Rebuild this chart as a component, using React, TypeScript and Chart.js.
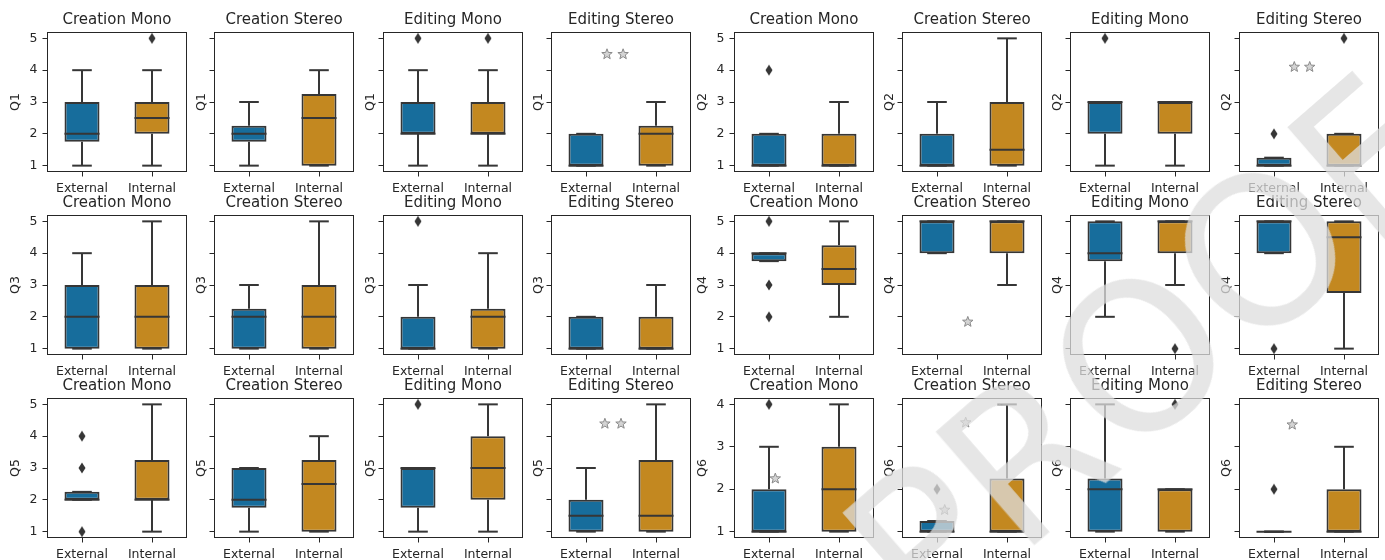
import React, { useEffect, useRef } from "react";
import { Chart, registerables } from "chart.js";

Chart.register(...registerables);

// ---------- data ----------
const groups = ["External", "Internal"];
const conditions = ["Creation Mono", "Creation Stereo", "Editing Mono", "Editing Stereo"];
const ticksOneToFive = [1, 2, 3, 4, 5];
const ticksOneToFour = [1, 2, 3, 4];

// each box: [lower whisker, Q1, median, Q3, upper whisker]; per condition [External, Internal]
const q1Boxes = [
  [[1, 1.75, 2, 3, 4], [1, 2, 2.5, 3, 4]],
  [[1, 1.75, 2, 2.25, 3], [1, 1, 2.5, 3.25, 4]],
  [[1, 2, 2, 3, 4], [1, 2, 2, 3, 4]],
  [[1, 1, 1, 2, 2], [1, 1, 2, 2.25, 3]],
];
const q1Outliers = [[[], [5]], [[], []], [[5], [5]], [[], []]];
const q1Stars = [[], [], [], [[0.3, 4.5], [0.53, 4.5]]];

const q2Boxes = [
  [[1, 1, 1, 2, 2], [1, 1, 1, 2, 3]],
  [[1, 1, 1, 2, 3], [1, 1, 1.5, 3, 5]],
  [[1, 2, 3, 3, 3], [1, 2, 3, 3, 3]],
  [[1, 1, 1, 1.25, 1.25], [1, 1, 1, 2, 2]],
];
const q2Outliers = [[[4], []], [[], []], [[5], []], [[2], [5]]];
const q2Stars = [[], [], [], [[0.29, 4.1], [0.51, 4.1]]];

const q3Boxes = [
  [[1, 1, 2, 3, 4], [1, 1, 2, 3, 5]],
  [[1, 1, 2, 2.25, 3], [1, 1, 2, 3, 5]],
  [[1, 1, 1, 2, 3], [1, 1, 2, 2.25, 4]],
  [[1, 1, 1, 2, 2], [1, 1, 1, 2, 3]],
];
const q3Outliers = [[[], []], [[], []], [[5], []], [[], []]];
const q3Stars = [[], [], [], []];

const q4Boxes = [
  [[3.75, 3.75, 4, 4, 4], [2, 3, 3.5, 4.25, 5]],
  [[4, 4, 5, 5, 5], [3, 4, 5, 5, 5]],
  [[2, 3.75, 4, 5, 5], [3, 4, 5, 5, 5]],
  [[4, 4, 5, 5, 5], [1, 2.75, 4.5, 5, 5]],
];
const q4Outliers = [[[5, 3, 2], []], [[], []], [[], [1]], [[1], []]];
const q4Stars = [[], [[0.44, 1.84]], [], []];

const q5Boxes = [
  [[2, 2, 2, 2.25, 2.25], [1, 2, 2, 3.25, 5]],
  [[1, 1.75, 2, 3, 3], [1, 1, 2.5, 3.25, 4]],
  [[1, 1.75, 3, 3, 3], [1, 2, 3, 4, 5]],
  [[1, 1, 1.5, 2, 3], [1, 1, 1.5, 3.25, 5]],
];
const q5Outliers = [[[4, 3, 1], []], [[], []], [[5], []], [[], []]];
const q5Stars = [[], [], [], [[0.27, 4.39], [0.5, 4.39]]];

const q6Boxes = [
  [[1, 1, 1, 2, 3], [1, 1, 2, 3, 4]],
  [[1, 1, 1, 1.25, 1.25], [1, 1, 1, 2.25, 4]],
  [[1, 1, 2, 2.25, 4], [1, 1, 2, 2, 2]],
  [[1, 1, 1, 1, 1], [1, 1, 1, 2, 3]],
];
const q6Outliers = [[[4], []], [[2], []], [[], [4]], [[2], []]];
const q6Stars = [[[0.09, 2.25]], [[0.41, 3.57], [0.11, 1.51]], [], [[0.26, 3.52]]];

// ---------- layout & style ----------
const colLefts = [47, 214, 383, 551, 734, 902, 1070, 1239];
const rowTops = [32, 215, 398];
const plotW = 140;
const plotH = 140;
const axisW = 50;
const titleH = 32;
const xAxisH = 28;
const padRight = 8;

const boxColors = ["#176d9c", "#c38820"];
const lineGray = "#363636";
const textColor = "#262626";
const fontFamily = "'DejaVu Sans', sans-serif";

type QuestionBlock = {
  name: string;
  boxes: number[][][];
  outliers: number[][][];
  stars: number[][][];
  yTicks: number[];
  yMin: number;
  yMax: number;
  row: number;
  colStart: number;
};

const blocks: QuestionBlock[] = [
  { name: "Q1", boxes: q1Boxes, outliers: q1Outliers, stars: q1Stars, yTicks: ticksOneToFive, yMin: 0.8, yMax: 5.2, row: 0, colStart: 0 },
  { name: "Q2", boxes: q2Boxes, outliers: q2Outliers, stars: q2Stars, yTicks: ticksOneToFive, yMin: 0.8, yMax: 5.2, row: 0, colStart: 4 },
  { name: "Q3", boxes: q3Boxes, outliers: q3Outliers, stars: q3Stars, yTicks: ticksOneToFive, yMin: 0.8, yMax: 5.2, row: 1, colStart: 0 },
  { name: "Q4", boxes: q4Boxes, outliers: q4Outliers, stars: q4Stars, yTicks: ticksOneToFive, yMin: 0.8, yMax: 5.2, row: 1, colStart: 4 },
  { name: "Q5", boxes: q5Boxes, outliers: q5Outliers, stars: q5Stars, yTicks: ticksOneToFive, yMin: 0.8, yMax: 5.2, row: 2, colStart: 0 },
  { name: "Q6", boxes: q6Boxes, outliers: q6Outliers, stars: q6Stars, yTicks: ticksOneToFour, yMin: 0.85, yMax: 4.15, row: 2, colStart: 4 },
];

type PanelSpec = {
  key: string;
  question: string;
  condition: string;
  boxes: number[][];
  outliers: number[][];
  stars: number[][];
  yTicks: number[];
  yMin: number;
  yMax: number;
  first: boolean;
  left: number;
  top: number;
};

const panels: PanelSpec[] = blocks.flatMap((b) =>
  conditions.map((c, ci) => ({
    key: b.name + "-" + ci,
    question: b.name,
    condition: c,
    boxes: b.boxes[ci],
    outliers: b.outliers[ci],
    stars: b.stars[ci],
    yTicks: b.yTicks,
    yMin: b.yMin,
    yMax: b.yMax,
    first: ci === 0,
    left: colLefts[b.colStart + ci],
    top: rowTops[b.row],
  }))
);

function makeDiamond(): HTMLCanvasElement {
  const c = document.createElement("canvas");
  c.width = 8;
  c.height = 12;
  const g = c.getContext("2d")!;
  g.fillStyle = lineGray;
  g.beginPath();
  g.moveTo(4, 0.5);
  g.lineTo(7.5, 6);
  g.lineTo(4, 11.5);
  g.lineTo(0.5, 6);
  g.closePath();
  g.fill();
  return c;
}

function BoxPanel({ p }: { p: PanelSpec }) {
  const ref = useRef<HTMLCanvasElement>(null);
  useEffect(() => {
    const canvas = ref.current!;
    const diamond = makeDiamond();
    const outlierPoints = groups.flatMap((g, gi) => p.outliers[gi].map((v) => ({ x: g, y: v })));

    const extras = {
      id: "boxExtras",
      afterDatasetsDraw(chart: any) {
        const { ctx, chartArea: a } = chart;
        const x = chart.scales.x;
        const y = chart.scales.y;
        ctx.save();
        ctx.strokeStyle = lineGray;
        ctx.lineWidth = 2;
        ctx.lineCap = "butt";
        const seg = (x1: number, y1: number, x2: number, y2: number) => {
          ctx.beginPath();
          ctx.moveTo(x1, y1);
          ctx.lineTo(x2, y2);
          ctx.stroke();
        };
        p.boxes.forEach((b, i) => {
          const cx = x.getPixelForValue(i);
          const half = x.getPixelForValue(i + 0.25) - cx;
          const capHalf = x.getPixelForValue(i + 0.14) - cx;
          const [lo, q1, med, q3, hi] = b.map((v) => y.getPixelForValue(v));
          seg(cx, q1, cx, lo);
          seg(cx, q3, cx, hi);
          seg(cx - capHalf, lo, cx + capHalf, lo);
          seg(cx - capHalf, hi, cx + capHalf, hi);
          seg(cx - half, med, cx + half, med);
        });
        // star annotations
        p.stars.forEach(([sx, sy]) => {
          const px = x.getPixelForValue(sx);
          const py = y.getPixelForValue(sy);
          const ro = 5.5;
          const ri = 2.3;
          ctx.beginPath();
          for (let k = 0; k < 10; k++) {
            const r = k % 2 === 0 ? ro : ri;
            const ang = -Math.PI / 2 + (k * Math.PI) / 5;
            const xx = px + r * Math.cos(ang);
            const yy = py + r * Math.sin(ang);
            if (k === 0) ctx.moveTo(xx, yy);
            else ctx.lineTo(xx, yy);
          }
          ctx.closePath();
          ctx.fillStyle = "#d4d4d4";
          ctx.fill();
          ctx.lineWidth = 1;
          ctx.strokeStyle = "#8a8a8a";
          ctx.stroke();
        });
        // frame
        ctx.lineWidth = 1;
        ctx.strokeStyle = textColor;
        ctx.strokeRect(a.left + 0.5, a.top + 0.5, a.right - a.left - 1, a.bottom - a.top - 1);
        ctx.restore();
      },
    };

    const chart = new Chart(canvas, {
      type: "bar",
      data: {
        labels: groups,
        datasets: [
          {
            type: "bar",
            data: p.boxes.map((b) => [b[1], b[3]]),
            backgroundColor: boxColors,
            borderColor: lineGray,
            borderWidth: 2,
            borderSkipped: false,
            barPercentage: 0.5,
            categoryPercentage: 1,
            order: 2,
          } as any,
          {
            type: "line",
            data: outlierPoints,
            showLine: false,
            pointStyle: diamond,
            pointRadius: 5,
            pointHoverRadius: 5,
            order: 1,
          } as any,
        ],
      },
      options: {
        responsive: false,
        animation: false,
        devicePixelRatio: 1,
        events: [],
        layout: { padding: { left: 0, right: padRight, top: 0, bottom: 0 } },
        plugins: {
          legend: { display: false },
          tooltip: { enabled: false },
          title: {
            display: true,
            text: p.condition,
            fullSize: false,
            color: textColor,
            font: { size: 15, family: fontFamily, weight: "normal" },
            padding: { top: 11, bottom: 3 },
          },
        },
        scales: {
          x: {
            type: "category",
            offset: true,
            afterFit: (s: any) => {
              s.height = xAxisH;
            },
            ticks: {
              color: textColor,
              font: { size: 12.5, family: fontFamily },
              padding: 5,
              maxRotation: 0,
              autoSkip: false,
            },
            grid: {
              display: true,
              offset: false,
              drawOnChartArea: false,
              drawTicks: true,
              tickLength: 4.5,
              color: textColor,
              lineWidth: 1,
            },
            border: { display: false },
          },
          y: {
            type: "linear",
            min: p.yMin,
            max: p.yMax,
            afterBuildTicks: (s: any) => {
              s.ticks = p.yTicks.map((v) => ({ value: v }));
            },
            afterFit: (s: any) => {
              s.width = axisW;
            },
            ticks: {
              display: p.first,
              color: textColor,
              font: { size: 12.5, family: fontFamily },
              padding: 5,
            },
            grid: {
              display: true,
              drawOnChartArea: false,
              drawTicks: true,
              tickLength: 4.5,
              color: textColor,
              lineWidth: 1,
            },
            border: { display: false },
            title: {
              display: true,
              text: p.question,
              color: textColor,
              font: { size: 12.5, family: fontFamily },
              padding: { top: p.first ? 11.5 : 30, bottom: 0 },
            },
          },
        },
      },
      plugins: [extras],
    } as any);
    return () => chart.destroy();
  }, [p]);

  const w = axisW + plotW + padRight;
  const h = titleH + plotH + xAxisH;
  return (
    <canvas
      ref={ref}
      width={w}
      height={h}
      style={{
        position: "absolute",
        left: p.left - axisW,
        top: p.top - titleH,
        width: w,
        height: h,
      }}
    />
  );
}

export default function App() {
  return (
    <div
      style={{
        position: "absolute",
        left: 0,
        top: 0,
        width: 1385,
        height: 560,
        overflow: "hidden",
        background: "#ffffff",
      }}
    >
      {panels.map((p) => (
        <BoxPanel key={p.key} p={p} />
      ))}
      <div
        style={{
          position: "absolute",
          left: 1146,
          top: 354,
          transform: "translate(-50%, -50%) rotate(-41deg)",
          fontFamily: "'DejaVu Sans', sans-serif",
          fontSize: 205,
          lineHeight: 1,
          color: "rgba(222,222,222,0.75)",
          whiteSpace: "nowrap",
          pointerEvents: "none",
        }}
      >
        PROOF
      </div>
    </div>
  );
}
